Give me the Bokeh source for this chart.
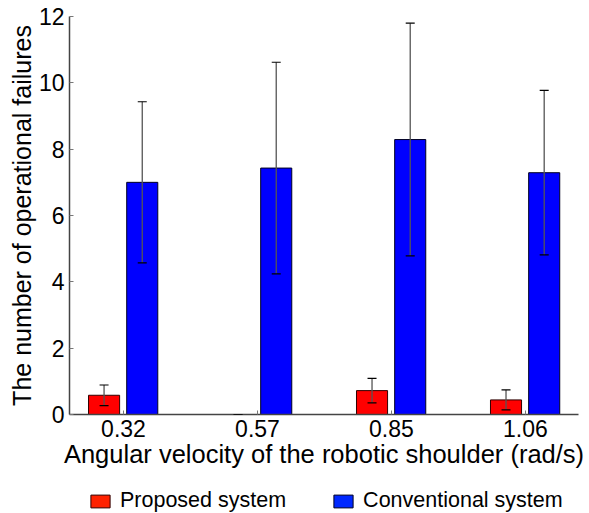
from bokeh.plotting import figure
from bokeh.layouts import column
from bokeh.models import (ColumnDataSource, Whisker, TeeHead, Legend, LegendItem,
                          FixedTicker, Range1d)
from bokeh.embed import file_html
from bokeh.resources import INLINE

# ---- data ----
velocities = ["0.32", "0.57", "0.85", "1.06"]
proposed_mean = [0.58, 0.0, 0.72, 0.44]
proposed_err = [0.31, 0.0, 0.37, 0.30]
conventional_mean = [7.00, 7.43, 8.29, 7.29]
conventional_err = [2.43, 3.19, 3.51, 2.48]
y_ticks = [0, 2, 4, 6, 8, 10, 12]
series_names = ["Proposed system", "Conventional system"]

pos = list(range(1, len(velocities) + 1))
bw = 0.232
off_r, off_b = -0.145, 0.140

src_r = ColumnDataSource(dict(
    x=[p + off_r for p in pos], top=proposed_mean,
    up=[m + e for m, e in zip(proposed_mean, proposed_err)],
    lo=[m - e for m, e in zip(proposed_mean, proposed_err)]))
src_b = ColumnDataSource(dict(
    x=[p + off_b for p in pos], top=conventional_mean,
    up=[m + e for m, e in zip(conventional_mean, conventional_err)],
    lo=[m - e for m, e in zip(conventional_mean, conventional_err)]))

FONT = "Liberation Sans"

p = figure(width=589, height=470, output_backend="svg", toolbar_location=None,
           x_range=Range1d(0.597, 4.396), y_range=Range1d(0, 12),
           min_border_left=69, min_border_right=11, min_border_top=16,
           min_border_bottom=53)
p.outline_line_color = None
p.xgrid.grid_line_color = None
p.ygrid.grid_line_color = None

p.vbar(x="x", top="top", bottom=0, width=bw, source=src_r,
       fill_color="#ff0000", line_color="#300000", line_width=1)
p.vbar(x="x", top="top", bottom=0, width=bw, source=src_b,
       fill_color="#0000ff", line_color="#000020", line_width=1)

for s in (src_r, src_b):
    w = Whisker(source=s, base="x", upper="up", lower="lo", level="overlay",
                line_color="#555555", line_width=1.3,
                upper_head=TeeHead(size=9, line_color="black", line_width=1.2),
                lower_head=TeeHead(size=9, line_color="black", line_width=1.2))
    p.add_layout(w)

# axes
p.xaxis.ticker = FixedTicker(ticks=pos)
p.xaxis.major_label_overrides = {k: v for k, v in zip(pos, velocities)}
p.yaxis.ticker = FixedTicker(ticks=y_ticks)
for ax in (p.xaxis[0], p.yaxis[0]):
    ax.axis_line_color = "#444444"
    ax.axis_line_width = 1.5
    ax.major_tick_in = 4
    ax.major_tick_out = 0
    ax.major_tick_line_color = "#777777"
    ax.minor_tick_line_color = None
    ax.major_label_text_font = FONT
    ax.major_label_text_font_size = "23px"
    ax.major_label_text_color = "black"
    ax.axis_label_text_font = FONT
    ax.axis_label_text_font_style = "normal"
    ax.axis_label_text_color = "black"
p.xaxis.axis_label_text_font_size = "25.5px"
p.yaxis.axis_label_text_font_size = "25px"

p.xaxis.axis_label = "Angular velocity of the robotic shoulder (rad/s)"
p.yaxis.axis_label = "The number of operational failures"
p.xaxis.major_label_standoff = 5
p.xaxis.axis_label_standoff = 0
p.yaxis.major_label_standoff = 5
p.yaxis.axis_label_standoff = 0

# ---- legend strip (frame is aligned with the main plot's frame) ----
q = figure(width=589, height=43, output_backend="svg", toolbar_location=None,
           x_axis_type=None, y_axis_type=None,
           x_range=Range1d(0, 1), y_range=Range1d(0, 1),
           min_border_left=0, min_border_right=0, min_border_top=0,
           min_border_bottom=0)
q.outline_line_color = None
q.xgrid.grid_line_color = None
q.ygrid.grid_line_color = None
nan = float("nan")
dummy = ColumnDataSource(dict(x=[nan], top=[nan]))
lr = q.vbar(x="x", top="top", width=0.1, source=dummy,
            fill_color="#ff2200", line_color="#300000")
lb = q.vbar(x="x", top="top", width=0.1, source=dummy,
            fill_color="#0028ff", line_color="#000020")
legend = Legend(items=[LegendItem(label=series_names[0], renderers=[lr]),
                       LegendItem(label=series_names[1], renderers=[lb])],
                orientation="horizontal", location=(19, 0),
                border_line_color=None, background_fill_alpha=0,
                label_text_font=FONT, label_text_font_size="21.5px",
                label_text_color="black",
                glyph_width=24, glyph_height=16, label_standoff=8,
                label_height=16,
                spacing=45, padding=0, margin=0)
q.add_layout(legend)

layout = column(p, q, spacing=0)
open("out.html", "w").write(file_html(layout, INLINE))
